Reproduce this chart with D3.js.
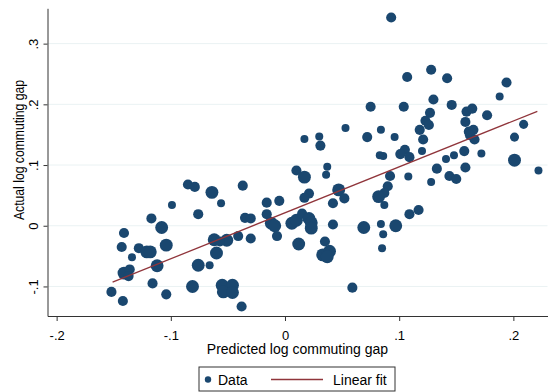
<!DOCTYPE html>
<html>
  <head>
    <meta charset="utf-8">
    <title>Actual vs predicted log commuting gap</title>
    <script src="https://d3js.org/d3.v7.min.js"></script>
    <style>
      body { margin: 0; background: #fff; }
      svg { font-family: "Liberation Sans", Arial, sans-serif; display: block; }
      .grid line { stroke: #eaf2f3; stroke-width: 1; }
      .axis path, .axis line { stroke: #333; stroke-width: 1; }
      .axis text { font-size: 13px; fill: #000; }
    </style>
  </head>
  <body>
    <svg id="svg" width="548" height="392"></svg>
    <script>
      // data
      var predicted = [0.093, 0.107, 0.128, 0.142, 0.194, 0.188, 0.130, 0.146, 0.104, 0.075,
        0.053, 0.017, 0.030, 0.031, 0.072, 0.084, 0.083, 0.086, 0.127, 0.123,
        0.126, 0.118, 0.096, 0.121, 0.159, 0.164, 0.158, 0.161, 0.165, 0.162,
        0.166, 0.177, 0.209, 0.201, 0.105, 0.101, 0.109, 0.120, 0.141, 0.148,
        0.157, 0.172, 0.201, 0.222, 0.158, 0.133, 0.144, 0.150, 0.128, 0.108,
        0.092, 0.090, 0.087, 0.082, 0.087, 0.109, 0.117, 0.097, 0.084, 0.086,
        0.085, 0.069, 0.059, 0.010, 0.017, 0.037, 0.036, -0.037, -0.064, -0.056,
        0.021, 0.017, 0.047, 0.042, 0.052, -0.016, -0.005, -0.016, -0.035, -0.030,
        -0.012, -0.009, 0.006, 0.010, 0.015, 0.021, 0.023, 0.023, 0.042, -0.007,
        -0.030, -0.041, -0.051, -0.062, -0.057, -0.060, -0.076, -0.066, 0.012, 0.035,
        0.033, 0.039, 0.037, -0.055, -0.046, -0.054, -0.046, -0.038, -0.085, -0.079,
        -0.099, -0.076, -0.117, -0.108, -0.141, -0.143, -0.104, -0.128, -0.121, -0.118,
        -0.134, -0.112, -0.141, -0.136, -0.137, -0.152, -0.142, -0.116, -0.104, -0.081];
      var actual = [0.343, 0.245, 0.257, 0.243, 0.236, 0.213, 0.208, 0.199, 0.196, 0.196,
        0.161, 0.143, 0.147, 0.132, 0.146, 0.158, 0.116, 0.115, 0.186, 0.173,
        0.166, 0.158, 0.146, 0.142, 0.188, 0.193, 0.171, 0.155, 0.158, 0.149,
        0.142, 0.182, 0.167, 0.146, 0.125, 0.118, 0.113, 0.123, 0.110, 0.116,
        0.123, 0.119, 0.108, 0.091, 0.096, 0.094, 0.082, 0.077, 0.072, 0.081,
        0.082, 0.065, 0.054, 0.048, 0.034, 0.019, 0.026, 0.000, 0.003, -0.014,
        -0.037, -0.003, -0.102, 0.091, 0.080, 0.097, 0.084, 0.066, 0.055, 0.037,
        0.053, 0.046, 0.059, 0.037, 0.045, 0.038, 0.041, 0.019, 0.013, 0.012,
        0.004, 0.000, 0.004, 0.009, 0.020, 0.012, 0.005, -0.004, 0.002, -0.017,
        -0.021, -0.017, -0.024, -0.023, -0.026, -0.045, -0.065, -0.065, -0.030, -0.026,
        -0.048, -0.042, -0.051, -0.098, -0.098, -0.109, -0.110, -0.133, 0.068, 0.064,
        0.034, 0.019, 0.012, -0.003, -0.012, -0.035, -0.032, -0.037, -0.043, -0.043,
        -0.052, -0.066, -0.078, -0.072, -0.083, -0.109, -0.124, -0.095, -0.113, -0.100];
      var weight = [1.6, 1.6, 1.6, 1.6, 1.6, 1, 1.6, 1.6, 1.6, 1.6,
        1, 1, 1, 1.6, 1.6, 1, 1, 1, 1.6, 1.6,
        1.6, 1.6, 1, 1.6, 1.6, 1.6, 1.6, 1.6, 1.6, 1.6,
        1.6, 1.6, 1.3, 1.3, 1.6, 1.6, 1.6, 1, 1, 1,
        1.6, 1, 2.6, 1, 1.6, 1.6, 1.6, 1.6, 1, 1,
        1.6, 1.6, 1.6, 2.6, 1, 1.6, 1.6, 2.6, 1, 1,
        1, 2.6, 1.6, 1.6, 2.6, 1, 1, 1.6, 2.6, 1,
        1.6, 1.6, 2.6, 1.6, 1.6, 1.6, 1.6, 1.6, 1.6, 1.6,
        2.6, 2.6, 2.6, 2.6, 1.6, 2.6, 2.6, 2.6, 1.6, 1.6,
        1.6, 1.6, 2.6, 2.6, 1.6, 2.6, 2.6, 1, 2.6, 1.6,
        2.6, 2.6, 2.6, 2.6, 2.6, 2.6, 2.6, 1.6, 1.6, 1.6,
        1, 1.6, 1.6, 2.6, 1.6, 1.6, 2.6, 1.6, 2.6, 2.6,
        1, 2.6, 2.6, 1.6, 1.6, 1.6, 1.6, 1.6, 1.6, 2.6];
      // linear fit, end points
      var fitX = [-0.151, 0.221];
      var fitY = [-0.093, 0.1885];
      var xTicks = [-0.2, -0.1, 0, 0.1, 0.2];
      var yTicks = [-0.1, 0, 0.1, 0.2, 0.3];
      var xLabels = ["-.2", "-.1", "0", ".1", ".2"];
      var yLabels = ["-.1", "0", ".1", ".2", ".3"];

      var points = predicted.map(function(d, i) { return { x: d, y: actual[i], w: weight[i] }; });

      var svg = d3.select("#svg");
      var plotL = 47.5, plotR = 547.5, plotT = 8.3, plotB = 316;

      var x = d3.scaleLinear().domain([-0.208, 0.2299]).range([plotL, plotR]);
      var y = d3.scaleLinear().domain([-0.1487, 0.3582]).range([plotB, plotT]);
      var r = d3.scaleSqrt().domain([0, 1]).range([0, 4]);

      // grid
      svg.append("g").attr("class", "grid")
        .selectAll("line")
          .data(yTicks)
        .enter().append("line")
          .attr("x1", plotL).attr("x2", plotR)
          .attr("y1", function(d) { return y(d); })
          .attr("y2", function(d) { return y(d); });

      // axes
      var xAxis = d3.axisBottom(x).tickValues(xTicks)
        .tickFormat(function(d, i) { return xLabels[i]; })
        .tickSizeInner(5).tickSizeOuter(0);
      var xg = svg.append("g").attr("class", "axis")
        .attr("transform", "translate(0," + plotB + ")")
        .call(xAxis);
      xg.selectAll("text").attr("y", 24).attr("dy", 0);

      var yAxis = d3.axisLeft(y).tickValues(yTicks)
        .tickFormat(function(d, i) { return yLabels[i]; })
        .tickSizeInner(4).tickSizeOuter(0);
      var yg = svg.append("g").attr("class", "axis")
        .attr("transform", "translate(" + plotL + ",0)")
        .call(yAxis);
      yg.selectAll("text")
        .attr("transform", "rotate(-90)")
        .attr("x", 0).attr("y", -9.5).attr("dy", 0)
        .attr("text-anchor", "middle");

      // points
      svg.append("g")
        .selectAll("circle")
          .data(points)
        .enter().append("circle")
          .attr("cx", function(d) { return x(d.x); })
          .attr("cy", function(d) { return y(d.y); })
          .attr("r", function(d) { return r(d.w); })
          .style("fill", "#1a476f");

      // fit line
      var line = d3.line()
        .x(function(d) { return x(d[0]); })
        .y(function(d) { return y(d[1]); });
      svg.append("path")
        .datum(fitX.map(function(d, i) { return [d, fitY[i]]; }))
        .attr("d", line)
        .style("fill", "none")
        .style("stroke", "#90353b")
        .style("stroke-width", 1.3);

      // titles
      svg.append("text")
        .attr("x", (plotL + plotR) / 2).attr("y", 354)
        .attr("text-anchor", "middle")
        .style("font-size", "14px")
        .text("Predicted log commuting gap");
      svg.append("text")
        .attr("transform", "translate(24,150) rotate(-90)")
        .attr("text-anchor", "middle")
        .attr("textLength", 140)
        .attr("lengthAdjust", "spacingAndGlyphs")
        .style("font-size", "14px")
        .text("Actual log commuting gap");

      // legend
      var legend = svg.append("g").attr("transform", "translate(199,367)");
      legend.append("rect")
        .attr("width", 196).attr("height", 24)
        .style("fill", "#fff").style("stroke", "#333").style("stroke-width", 1);
      legend.append("circle")
        .attr("cx", 9).attr("cy", 12.5).attr("r", 3.2)
        .style("fill", "#1a476f");
      legend.append("text")
        .attr("x", 19).attr("y", 17.5)
        .style("font-size", "14px")
        .text("Data");
      legend.append("line")
        .attr("x1", 72).attr("x2", 124).attr("y1", 12.5).attr("y2", 12.5)
        .style("stroke", "#90353b").style("stroke-width", 1.3);
      legend.append("text")
        .attr("x", 134).attr("y", 17.5)
        .style("font-size", "14px")
        .text("Linear fit");
    </script>
  </body>
</html>
